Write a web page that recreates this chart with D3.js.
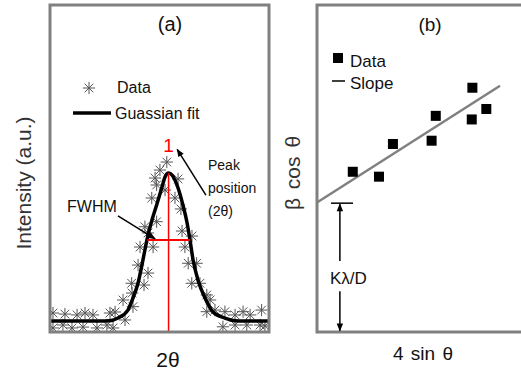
<!DOCTYPE html>
<html>
<head>
<meta charset="utf-8">
<script src="https://cdn.jsdelivr.net/npm/d3@7"></script>
<style>
	body{margin:0;background:#fff;}
	#canvas{width:521px;height:374px;overflow:hidden;}
	svg text{font-family:Arial,"Liberation Sans",sans-serif;fill:#111;}
</style>
</head>
<body>
<div id="canvas"></div>
<script>
// (a) peak profile: x = 2theta (arb. units), y = normalised intensity
const peakData = [
	[0.18,0.054],[0.72,0.047],[1.27,0.041],[1.63,0.054],[1.99,0.041],[2.76,0.054],[2.99,0.061],
	[0.18,-0.047],[0.63,-0.027],[1.04,-0.047],[1.54,-0.041],[2.17,-0.047],[2.62,-0.027],[2.90,-0.047],[3.44,0.007],
	[3.35,0.142],[3.76,0.189],[3.80,0.097],[3.74,0.255],[4.30,0.243],[4.03,0.378],[4.48,0.324],
	[4.12,0.500],[4.71,0.500],[4.48,0.595],[4.34,0.637],[4.87,0.671],[4.65,0.831],[4.87,0.919],[4.80,0.966],
	[5.02,1.020],[5.33,1.074],[5.25,0.885],
	[5.84,0.960],[5.70,0.831],[5.97,0.757],[6.02,0.608],[6.47,0.574],[6.15,0.500],[6.30,0.390],[6.68,0.390],
	[6.46,0.255],[6.83,0.255],[7.14,0.176],[7.29,0.142],[7.14,0.063],[7.51,0.074],[7.96,0.063],[7.87,-0.039],
	[8.42,0.041],[8.78,0.063],[9.10,0.041],[9.62,0.074],[8.42,-0.027],[8.95,-0.027],[9.55,-0.027],[9.77,-0.034]
];
const fitCurve = [
	[0.0,0],[2.31,0],[2.76,0.002],[3.12,0.02],[3.57,0.074],[3.80,0.155],[4.03,0.257],[4.25,0.412],
	[4.43,0.547],[4.66,0.682],[4.87,0.784],[5.10,0.899],[5.25,0.973],[5.41,1.0],[5.57,0.986],[5.84,0.899],
	[6.06,0.784],[6.24,0.669],[6.38,0.547],[6.52,0.412],[6.74,0.277],[7.06,0.155],[7.42,0.061],
	[7.96,0.02],[8.42,0.002],[8.82,0],[10,0]
];
const peakPos = 5.41;
const peakMax = 1.0;
const halfMax = 0.547;
const fwhmEnds = [4.45, 6.38];

// (b) Williamson-Hall: x = 4 sin(theta), y = beta cos(theta)
const whX = [0.172, 0.298, 0.365, 0.551, 0.571, 0.747, 0.744, 0.814];
const whY = [0.490, 0.475, 0.575, 0.585, 0.661, 0.747, 0.650, 0.682];
const slopeLine = [[0, 0.396], [0.88, 0.753]];
const intercept = 0.394;

const asterisk = {
	draw(context, size){
		let r = Math.sqrt(size) / 2, d = r * Math.SQRT1_2;
		context.moveTo(-r, 0); context.lineTo(r, 0);
		context.moveTo(0, -r); context.lineTo(0, r);
		context.moveTo(-d, -d); context.lineTo(d, d);
		context.moveTo(-d, d); context.lineTo(d, -d);
	}
};

var svg = d3.select('#canvas').append('svg')
	.attr('width', 521)
	.attr('height', 374);

var defs = svg.append('defs');
defs.append('marker').attr('id', 'head')
	.attr('viewBox', '0 0 10 10').attr('refX', 9).attr('refY', 5)
	.attr('markerUnits', 'userSpaceOnUse')
	.attr('markerWidth', 10).attr('markerHeight', 8)
	.attr('orient', 'auto')
	.append('path').attr('d', 'M0,1L10,5L0,9z').style('fill', '#000');

// ---------- panel (a)
let xA = d3.scaleLinear().domain([0, 10]).range([49, 270]);
let yA = d3.scaleLinear().domain([-0.081, 2.135]).range([333, 5]);

defs.append('clipPath').attr('id', 'clipA').append('rect')
	.attr('x', 50).attr('y', 5).attr('width', 219).attr('height', 327);

var gA = svg.append('g').attr('class', 'panel-a');
var plotA = gA.append('g').attr('clip-path', 'url(#clipA)');

plotA.selectAll('.star').data(peakData)
	.enter().append('path')
	.attr('class', 'star')
	.attr('transform', d => 'translate(' + xA(d[0]) + ',' + yA(d[1]) + ')')
	.attr('d', d3.symbol().type(asterisk).size(150))
	.style('fill', 'none')
	.style('stroke', '#555')
	.style('stroke-width', 1);

plotA.append('path').datum(fitCurve)
	.attr('d', d3.line().x(d => xA(d[0])).y(d => yA(d[1])).curve(d3.curveMonotoneX))
	.style('fill', 'none')
	.style('stroke', '#000')
	.style('stroke-width', 3.5);

// red peak marker + fwhm bar
plotA.append('line')
	.attr('x1', xA(peakPos)).attr('x2', xA(peakPos))
	.attr('y1', yA(peakMax)).attr('y2', yA(-0.1))
	.style('stroke', '#f00').style('stroke-width', 1.5);
plotA.append('line')
	.attr('x1', xA(fwhmEnds[0])).attr('x2', xA(fwhmEnds[1]))
	.attr('y1', yA(halfMax)).attr('y2', yA(halfMax))
	.style('stroke', '#f00').style('stroke-width', 2);

gA.append('rect')
	.attr('x', 50).attr('y', 5).attr('width', 219).attr('height', 327)
	.style('fill', 'none').style('stroke', '#808080').style('stroke-width', 3);

gA.append('text').attr('x', xA(peakPos)).attr('y', 152)
	.attr('text-anchor', 'middle').style('font-size', '19px').style('fill', '#f00').text('1');

// arrows
gA.append('line')
	.attr('x1', xA(7.1)).attr('y1', yA(0.85))
	.attr('x2', xA(5.8)).attr('y2', yA(1.16))
	.style('stroke', '#000').style('stroke-width', 1.5)
	.attr('marker-end', 'url(#head)');
gA.append('line')
	.attr('x1', xA(3.12)).attr('y1', yA(0.71))
	.attr('x2', xA(4.8)).attr('y2', yA(0.555))
	.style('stroke', '#000').style('stroke-width', 1.5)
	.attr('marker-end', 'url(#head)');

var peakLbl = gA.append('text').attr('x', 208).attr('y', 170).style('font-size', '14px');
peakLbl.append('tspan').attr('x', 208).text('Peak');
peakLbl.append('tspan').attr('x', 208).attr('dy', 23).text('position');
peakLbl.append('tspan').attr('x', 208).attr('dy', 23).text('(2\u03b8)');

gA.append('text').attr('x', 67).attr('y', 212).style('font-size', '16px').text('FWHM');

// legend (a)
gA.append('path')
	.attr('transform', 'translate(89,88)')
	.attr('d', d3.symbol().type(asterisk).size(150))
	.style('fill', 'none').style('stroke', '#555').style('stroke-width', 1);
gA.append('text').attr('x', 117).attr('y', 93).style('font-size', '16px').text('Data');
gA.append('line').attr('x1', 73).attr('x2', 111).attr('y1', 113).attr('y2', 113)
	.style('stroke', '#000').style('stroke-width', 3.5);
gA.append('text').attr('x', 115).attr('y', 119).style('font-size', '16px').text('Guassian fit');

gA.append('text').attr('x', 170).attr('y', 31)
	.attr('text-anchor', 'middle').style('font-size', '20px').text('(a)');
gA.append('text').attr('x', 168).attr('y', 367)
	.attr('text-anchor', 'middle').style('font-size', '21px').text('2\u03b8');
gA.append('text')
	.attr('transform', 'translate(31,183) rotate(-90)')
	.attr('text-anchor', 'middle').style('font-size', '21px').style('fill', '#333')
	.text('Intensity (a.u.)');

// ---------- panel (b)
let xB = d3.scaleLinear().domain([0, 1]).range([317, 525]);
let yB = d3.scaleLinear().domain([0, 1]).range([332, 5]);

var gB = svg.append('g').attr('class', 'panel-b');

gB.append('line').datum(slopeLine)
	.attr('x1', d => xB(d[0][0])).attr('y1', d => yB(d[0][1]))
	.attr('x2', d => xB(d[1][0])).attr('y2', d => yB(d[1][1]))
	.style('stroke', '#808080').style('stroke-width', 2.5);

gB.selectAll('.sq').data(whX)
	.enter().append('rect')
	.attr('class', 'sq')
	.attr('x', d => xB(d) - 5)
	.attr('y', (d, i) => yB(whY[i]) - 5)
	.attr('width', 10).attr('height', 10)
	.style('fill', '#000');

gB.append('rect')
	.attr('x', 317).attr('y', 5).attr('width', 210).attr('height', 327)
	.style('fill', 'none').style('stroke', '#808080').style('stroke-width', 3);

// K lambda / D marker
gB.append('line')
	.attr('x1', xB(0.067)).attr('x2', xB(0.173))
	.attr('y1', yB(intercept)).attr('y2', yB(intercept))
	.style('stroke', '#000').style('stroke-width', 1.5);
gB.append('line')
	.attr('x1', xB(0.11)).attr('x2', xB(0.11))
	.attr('y1', yB(0.217)).attr('y2', yB(intercept) + 1)
	.style('stroke', '#000').style('stroke-width', 1.5)
	.attr('marker-end', 'url(#head)');
gB.append('line')
	.attr('x1', xB(0.11)).attr('x2', xB(0.11))
	.attr('y1', yB(0.125)).attr('y2', yB(0.004))
	.style('stroke', '#000').style('stroke-width', 1.5)
	.attr('marker-end', 'url(#head)');
gB.append('text').attr('x', 330).attr('y', 284).style('font-size', '17px').text('K\u03bb/D');

// legend (b)
gB.append('rect').attr('x', 333).attr('y', 53).attr('width', 10).attr('height', 10).style('fill', '#000');
gB.append('text').attr('x', 350).attr('y', 67).style('font-size', '17px').text('Data');
gB.append('line').attr('x1', 332).attr('x2', 345).attr('y1', 81).attr('y2', 81)
	.style('stroke', '#000').style('stroke-width', 1.5);
gB.append('text').attr('x', 350).attr('y', 89).style('font-size', '17px').text('Slope');

gB.append('text').attr('x', 430).attr('y', 31)
	.attr('text-anchor', 'middle').style('font-size', '19px').text('(b)');
gB.append('text').attr('x', 423).attr('y', 360)
	.attr('text-anchor', 'middle').style('font-size', '19px').style('word-spacing', '2px').text('4 sin \u03b8');
gB.append('text')
	.attr('transform', 'translate(300,173) rotate(-90)')
	.attr('text-anchor', 'middle').style('font-size', '21px').style('word-spacing', '3px')
	.style('fill', '#333')
	.text('\u03b2 cos \u03b8');
</script>
</body>
</html>
